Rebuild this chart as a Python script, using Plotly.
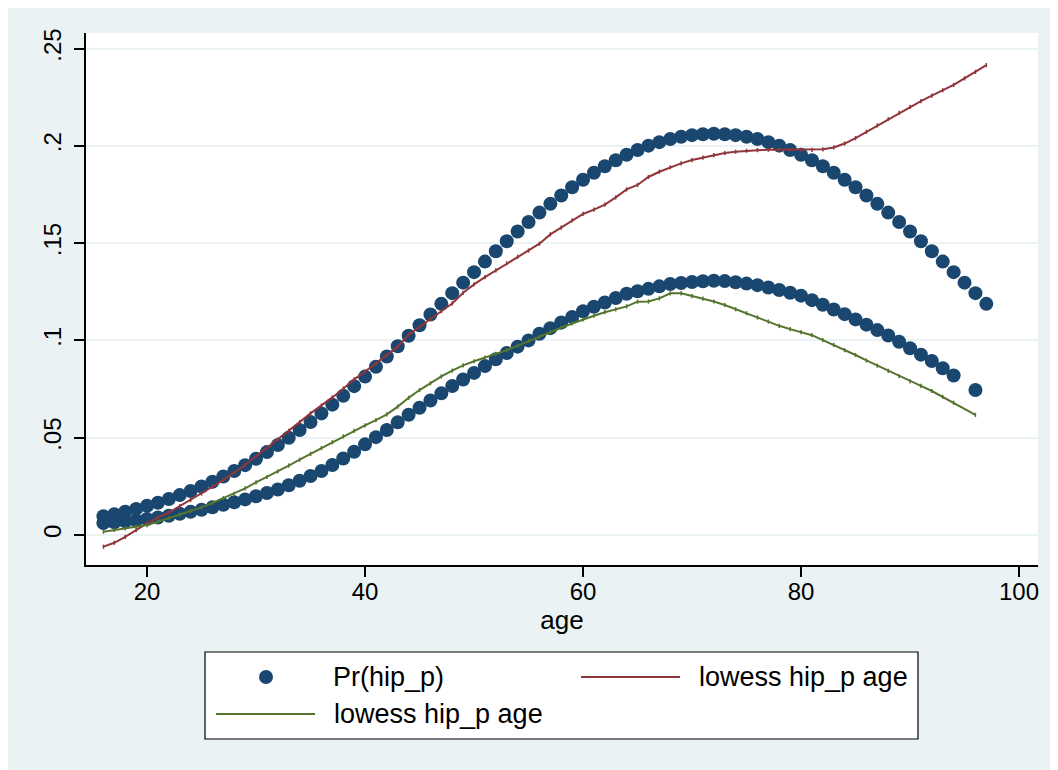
import plotly.graph_objects as go

# ---------------- data ----------------
ages_a = list(range(16, 98))
pr_a = [0.0096, 0.0107, 0.0120, 0.0134, 0.0150, 0.0166, 0.0185, 0.0205, 0.0226, 0.0249,
        0.0274, 0.0301, 0.0329, 0.0359, 0.0392, 0.0426, 0.0462, 0.0500, 0.0540, 0.0581,
        0.0625, 0.0670, 0.0716, 0.0765, 0.0814, 0.0865, 0.0917, 0.0970, 0.1024, 0.1078,
        0.1133, 0.1188, 0.1243, 0.1297, 0.1351, 0.1405, 0.1458, 0.1510, 0.1560, 0.1609,
        0.1657, 0.1702, 0.1745, 0.1787, 0.1826, 0.1862, 0.1895, 0.1926, 0.1954, 0.1979,
        0.2001, 0.2019, 0.2035, 0.2047, 0.2055, 0.2060, 0.2062, 0.2060, 0.2055, 0.2047,
        0.2035, 0.2019, 0.2001, 0.1979, 0.1954, 0.1926, 0.1895, 0.1862, 0.1826, 0.1787,
        0.1745, 0.1702, 0.1657, 0.1609, 0.1560, 0.1510, 0.1458, 0.1405, 0.1351, 0.1297,
        0.1243, 0.1188]

ages_b = list(range(16, 95)) + [96]
pr_b = [0.0061, 0.0065, 0.0070, 0.0076, 0.0082, 0.0090, 0.0099, 0.0109, 0.0119, 0.0130,
        0.0142, 0.0155, 0.0168, 0.0183, 0.0199, 0.0216, 0.0234, 0.0256, 0.0279, 0.0303,
        0.0329, 0.0360, 0.0393, 0.0428, 0.0466, 0.0503, 0.0540, 0.0579, 0.0618, 0.0654,
        0.0691, 0.0728, 0.0766, 0.0799, 0.0833, 0.0868, 0.0903, 0.0935, 0.0968, 0.1000,
        0.1034, 0.1063, 0.1092, 0.1121, 0.1150, 0.1173, 0.1195, 0.1218, 0.1240, 0.1253,
        0.1265, 0.1278, 0.1290, 0.1295, 0.1300, 0.1304, 0.1307, 0.1305, 0.1299, 0.1292,
        0.1284, 0.1272, 0.1259, 0.1245, 0.1230, 0.1207, 0.1183, 0.1159, 0.1135, 0.1108,
        0.1081, 0.1053, 0.1025, 0.0993, 0.0960, 0.0927, 0.0894, 0.0857, 0.0820,
        0.0745]

lowess_a = [-0.0060, -0.0040, -0.0010, 0.0025, 0.0060, 0.0090, 0.0115, 0.0148, 0.0180, 0.0213,
            0.0248, 0.0283, 0.0320, 0.0360, 0.0405, 0.0448, 0.0490, 0.0535, 0.0580, 0.0625,
            0.0665, 0.0707, 0.0752, 0.0800, 0.0840, 0.0882, 0.0925, 0.0968, 0.1030, 0.1072,
            0.1110, 0.1150, 0.1190, 0.1245, 0.1288, 0.1325, 0.1360, 0.1396, 0.1430, 0.1462,
            0.1497, 0.1545, 0.1580, 0.1617, 0.1650, 0.1672, 0.1698, 0.1735, 0.1776, 0.1799,
            0.1840, 0.1867, 0.1890, 0.1910, 0.1927, 0.1940, 0.1952, 0.1963, 0.1970, 0.1975,
            0.1978, 0.1980, 0.1980, 0.1980, 0.1979, 0.1979, 0.1982, 0.1992, 0.2012, 0.2040,
            0.2072, 0.2105, 0.2138, 0.2170, 0.2200, 0.2230, 0.2258, 0.2286, 0.2313, 0.2347,
            0.2380, 0.2415]

lowess_b = [0.0017, 0.0026, 0.0034, 0.0042, 0.0051, 0.0068, 0.0086, 0.0104, 0.0123, 0.0142,
            0.0165, 0.0189, 0.0212, 0.0240, 0.0270, 0.0298, 0.0327, 0.0357, 0.0387, 0.0417,
            0.0447, 0.0477, 0.0507, 0.0535, 0.0563, 0.0590, 0.0620, 0.0660, 0.0705, 0.0745,
            0.0780, 0.0815, 0.0845, 0.0872, 0.0893, 0.0912, 0.0931, 0.0950, 0.0973, 0.0997,
            0.1018, 0.1042, 0.1065, 0.1087, 0.1108, 0.1127, 0.1145, 0.1160, 0.1175, 0.1199,
            0.1200, 0.1216, 0.1242, 0.1242, 0.1228, 0.1215, 0.1200, 0.1182, 0.1160, 0.1140,
            0.1118, 0.1097, 0.1075, 0.1058, 0.1043, 0.1027, 0.1002, 0.0977, 0.0950, 0.0925,
            0.0897, 0.0870, 0.0843, 0.0816, 0.0790, 0.0766, 0.0740, 0.0710, 0.0680,
            0.0617]

y_ticks = [0, 0.05, 0.10, 0.15, 0.20, 0.25]
y_tick_labels = ["0", ".05", ".1", ".15", ".2", ".25"]
x_ticks = [20, 40, 60, 80, 100]
x_title = "age"
legend_labels = ["Pr(hip_p)", "lowess hip_p age", "lowess hip_p age"]

# ---------------- style ----------------
NAVY = "#1A476F"
MAROON = "#90353B"
GREEN = "#55752F"
BG = "#EAF2F3"
FONT = "Liberation Sans, Arial, sans-serif"

W, H = 1058, 770
ML, MR, MT, MB = 78, 28, 25, 213
PW, PH = W - ML - MR, H - MT - MB


def px_x(p):
    return (p - ML) / PW


def px_y(p):
    return (H - MB - p) / PH


fig = go.Figure()

fig.add_trace(go.Scatter(
    x=ages_a + ages_b, y=pr_a + pr_b, mode="markers",
    marker=dict(color=NAVY, size=14, line=dict(width=0)),
    showlegend=False, hoverinfo="skip"))

fig.add_trace(go.Scatter(
    x=ages_a, y=lowess_a, mode="lines+markers",
    line=dict(color=MAROON, width=2),
    marker=dict(symbol="line-ns-open", size=3, line=dict(color=MAROON, width=1.5)),
    showlegend=False, hoverinfo="skip"))

fig.add_trace(go.Scatter(
    x=ages_b, y=lowess_b, mode="lines+markers",
    line=dict(color=GREEN, width=2),
    marker=dict(symbol="line-ns-open", size=3, line=dict(color=GREEN, width=1.5)),
    showlegend=False, hoverinfo="skip"))

fig.update_layout(
    width=W, height=H,
    margin=dict(l=ML, r=MR, t=MT, b=MB, autoexpand=False),
    paper_bgcolor=BG, plot_bgcolor="white",
    font=dict(family=FONT, size=24, color="black"),
    showlegend=False,
    xaxis=dict(
        range=[14.40, 101.74], tickvals=x_ticks, ticktext=[str(v) for v in x_ticks],
        showgrid=False, zeroline=False, showline=True, linecolor="black", linewidth=1.5,
        ticks="outside", ticklen=10, tickwidth=1.5, tickcolor="black",
        tickfont=dict(size=24), ticklabelstandoff=-6,
        title=dict(text=x_title, font=dict(size=26), standoff=6),
        automargin=False),
    yaxis=dict(
        range=[-0.01542, 0.2580], tickvals=y_ticks, ticktext=y_tick_labels,
        tickangle=-90,
        showgrid=True, gridcolor=BG, gridwidth=1.5, zeroline=False,
        showline=True, linecolor="black", linewidth=1.5,
        ticks="outside", ticklen=10, tickwidth=1.5, tickcolor="black",
        tickfont=dict(size=24), ticklabelstandoff=4,
        automargin=False),
)

shapes = []
# legend box
shapes.append(dict(type="rect", xref="paper", yref="paper", layer="above",
                   x0=px_x(197), x1=px_x(910), y0=px_y(644), y1=px_y(731),
                   fillcolor="white", line=dict(color="black", width=1.2)))
row1, row2 = 669, 706
# legend marker (dot)
shapes.append(dict(type="circle", xref="paper", yref="paper", layer="above",
                   xsizemode="pixel", ysizemode="pixel",
                   xanchor=px_x(258), yanchor=px_y(row1),
                   x0=-7, x1=7, y0=-7, y1=7,
                   fillcolor=NAVY, line=dict(width=0)))
# legend line samples
shapes.append(dict(type="line", xref="paper", yref="paper", layer="above",
                   x0=px_x(573), x1=px_x(672), y0=px_y(row1), y1=px_y(row1),
                   line=dict(color=MAROON, width=2)))
shapes.append(dict(type="line", xref="paper", yref="paper", layer="above",
                   x0=px_x(208), x1=px_x(307), y0=px_y(row2), y1=px_y(row2),
                   line=dict(color=GREEN, width=2)))
fig.update_layout(shapes=shapes)

annotations = [
    dict(text=legend_labels[0], x=px_x(323), y=px_y(row1)),
    dict(text=legend_labels[1], x=px_x(689), y=px_y(row1)),
    dict(text=legend_labels[2], x=px_x(324), y=px_y(row2)),
]
for a in annotations:
    a.update(xref="paper", yref="paper", xanchor="left", yanchor="middle",
             showarrow=False, font=dict(size=27, family=FONT, color="black"))
fig.update_layout(annotations=annotations)

fig.write_html("out.html")
